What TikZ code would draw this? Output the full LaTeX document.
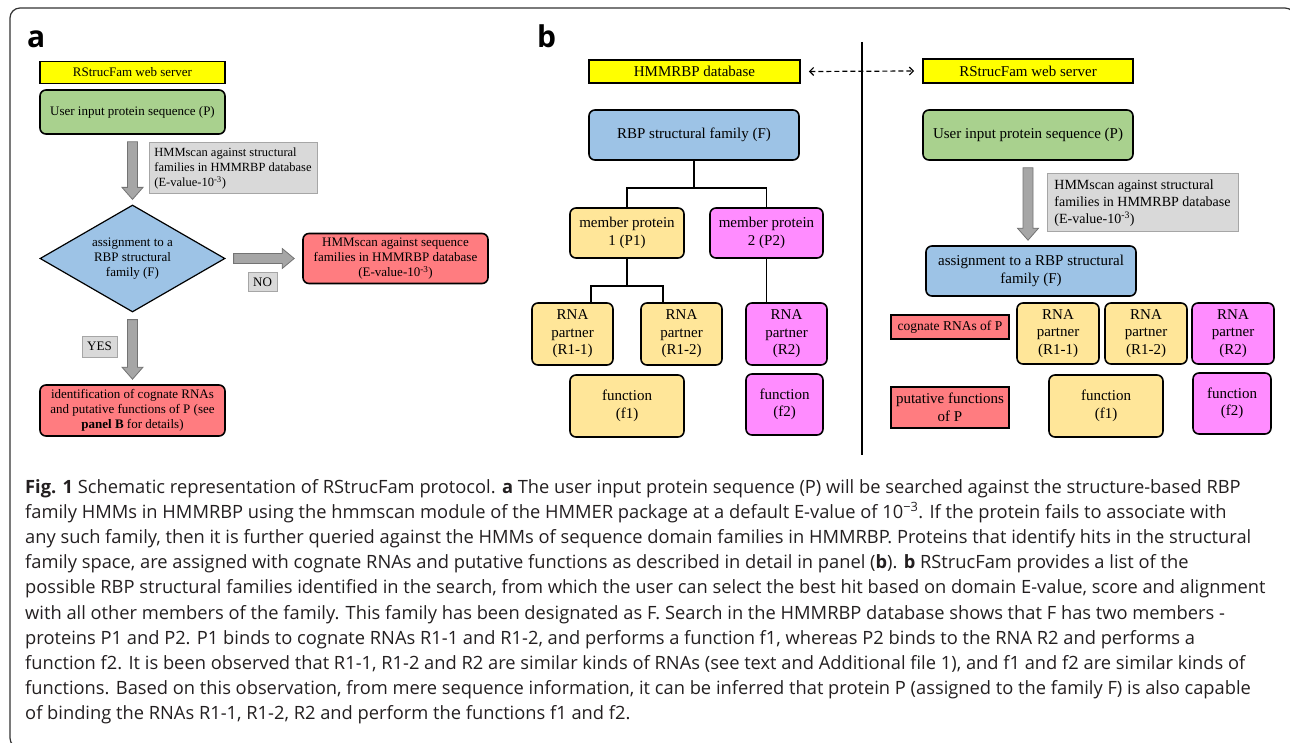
\documentclass[tikz,border=0pt]{standalone}
\usepackage{fontspec}
\setmainfont{Liberation Serif}
\newfontfamily\capfont{Open Sans}
\usepackage{xcolor}
\usepackage{tikz}
\usetikzlibrary{arrows.meta, shapes.geometric, calc}

\definecolor{boxyellow}{HTML}{FFFF00}
\definecolor{boxgreen}{HTML}{A9D18E}
\definecolor{boxblue}{HTML}{9DC3E6}
\definecolor{boxred}{HTML}{FF7C80}
\definecolor{boxpale}{HTML}{FFE699}
\definecolor{boxpink}{HTML}{FF8CFF}
\definecolor{notegrey}{HTML}{D9D9D9}
\definecolor{arrowgrey}{HTML}{A6A6A6}
\definecolor{captext}{HTML}{231F20}

% grey block arrows
\newcommand{\blockdown}[2]{\filldraw[blockarrow] ($(#1)+(-5,7)$) -- ($(#1 |- #2)+(-5,-17)$) -- ($(#1 |- #2)+(-10.5,-17)$) -- ($(#1 |- #2)+(0,-5)$) -- ($(#1 |- #2)+(10.5,-17)$) -- ($(#1 |- #2)+(5,-17)$) -- ($(#1)+(5,7)$) -- cycle;}
\newcommand{\blockright}[2]{\filldraw[blockarrow] ($(#1)+(8,-5)$) -- ($(#2 |- #1)+(-20,-5)$) -- ($(#2 |- #1)+(-20,-10)$) -- ($(#2 |- #1)+(-8,0)$) -- ($(#2 |- #1)+(-20,10)$) -- ($(#2 |- #1)+(-20,5)$) -- ($(#1)+(8,5)$) -- cycle;}

\begin{document}
\begin{tikzpicture}[x=1pt, y=-1pt, every node/.style={align=center, inner sep=0pt, font=\fontsize{13}{15}\selectfont},
    hdr/.style={draw, line width=1.6pt, fill=boxyellow, minimum height=22pt},
    rbox/.style={draw, line width=1.6pt, rounded corners=6pt},
    pale/.style={rbox, fill=boxpale},
    pink/.style={rbox, fill=boxpink},
    note/.style={draw=black!35, line width=1pt, fill=notegrey, align=left},
    tag/.style={draw=black!35, line width=1pt, fill=notegrey},
    sqbox/.style={draw, line width=1.6pt, fill=boxred},
    blockarrow/.style={fill=arrowgrey, draw=black!55, line width=0.8pt},
    link/.style={line width=1.6pt},
    bigfont/.style={font=\fontsize{15}{17.5}\selectfont},
    capline/.style={anchor=base west, font=\capfont\fontsize{18.3}{22}\selectfont, text=captext},
    panel/.style={anchor=base west, font=\capfont\bfseries\fontsize{30}{30}\selectfont}]
    \useasboundingbox (0,0) rectangle (1290,743);
    \draw[line width=1.2pt, black!80, rounded corners=10pt] (10,8) rectangle (1295,748);

    % Panel a
    \node[panel] (laba) at (27,48) {a};
    \node[hdr, minimum width=185pt] (srvA) at (132.5,72.5) {RStrucFam web server};
    \node[rbox, fill=boxgreen, minimum width=185pt, minimum height=44pt] (inpA) at (132.5,112) {User input protein sequence (P)};
    \node[note, font=\fontsize{12.5}{15}\selectfont, minimum width=168pt, minimum height=51pt] (scanA) at (233,168.5) {HMMscan against structural\\families in HMMRBP database\\(E-value-10\textsuperscript{-3})};
    \node[diamond, draw, line width=1.2pt, fill=boxblue, aspect=1.7, minimum width=185pt, minimum height=107pt] (famA) at (132.5,258.5) {assignment to a\\RBP structural\\family (F)};
    \node[rbox, fill=boxred, minimum width=185pt, minimum height=50pt] (seqA) at (395.5,258.5) {HMMscan against sequence\\families in HMMRBP database\\(E-value-10\textsuperscript{-3})};
    \node[tag, minimum width=29pt, minimum height=19pt] (noA) at (262.5,282.5) {NO};
    \node[tag, minimum width=35pt, minimum height=21pt] (yesA) at (99.5,346.5) {YES};
    \node[rbox, fill=boxred, minimum width=185pt, minimum height=51pt] (resA) at (132.5,410.5) {identification of cognate RNAs\\and putative functions of P (see\\\textbf{panel B} for details)};

    \blockdown{inpA.south}{famA.north}
    \blockright{famA.east}{seqA.west}
    \blockdown{famA.south}{resA.north}

    % Panel b, HMMRBP side
    \node[panel] (labb) at (537,48) {b};
    \node[hdr, bigfont, minimum width=211pt, minimum height=23pt] (dbB) at (694.5,71.5) {HMMRBP database};
    \node[rbox, bigfont, fill=boxblue, minimum width=210pt, minimum height=50pt] (famB) at (694,135) {RBP structural family (F)};
    \node[pale, bigfont, minimum width=114pt, minimum height=50pt] (p1B) at (627,233) {member protein\\1 (P1)};
    \node[pink, bigfont, minimum width=113pt, minimum height=50pt] (p2B) at (766.5,233) {member protein\\2 (P2)};
    \node[pale, bigfont, minimum width=81pt, minimum height=62pt] (r11B) at (572.5,334) {RNA\\partner\\(R1-1)};
    \node[pale, bigfont, minimum width=81pt, minimum height=62pt] (r12B) at (681.5,334) {RNA\\partner\\(R1-2)};
    \node[pink, bigfont, minimum width=81pt, minimum height=62pt] (r2B) at (786.5,334) {RNA\\partner\\(R2)};
    \node[pale, bigfont, minimum width=114pt, minimum height=62pt] (f1B) at (627,406) {function\\(f1)};
    \node[pink, bigfont, minimum width=77pt, minimum height=61pt] (f2B) at (784.5,404.5) {function\\(f2)};

    \draw[link] (famB.south) -- ++(0,27) -| (p1B.north);
    \draw[link] (famB.south) -- ++(0,27) -| (p2B.north);
    \draw[link] (p1B.south) -- ++(0,27) -| ([xshift=18.5pt]r11B.north);
    \draw[link] (p1B.south) -- ++(0,27) -| ([xshift=-18.5pt]r12B.north);
    \draw[link] (p2B.south) -- (p2B.south |- r2B.north);

    % divider
    \coordinate (divtop) at (862,42);
    \coordinate (divbot) at (862,455);
    \draw[line width=1.8pt] (divtop) -- (divbot);

    % Panel b, web server side
    \node[hdr, bigfont, minimum width=210pt, minimum height=24pt] (srvC) at (1028,71) {RStrucFam web server};
    \node[rbox, bigfont, fill=boxgreen, minimum width=210pt, minimum height=50pt] (inpC) at (1028,135) {User input protein sequence (P)};
    \node[note, font=\fontsize{14}{17}\selectfont, minimum width=191pt, minimum height=58pt] (scanC) at (1142.5,203) {HMMscan against structural\\families in HMMRBP database\\(E-value-10\textsuperscript{-3})};
    \node[rbox, bigfont, fill=boxblue, minimum width=210pt, minimum height=50pt] (asgC) at (1031,271) {assignment to a RBP structural\\family (F)};
    \node[sqbox, font=\fontsize{13.5}{16}\selectfont, minimum width=118pt, minimum height=24pt] (cogC) at (950,327) {cognate RNAs of P};
    \node[pale, bigfont, minimum width=82pt, minimum height=61pt] (r11C) at (1058,333.5) {RNA\\partner\\(R1-1)};
    \node[pale, bigfont, minimum width=82pt, minimum height=61pt] (r12C) at (1146,333.5) {RNA\\partner\\(R1-2)};
    \node[pink, bigfont, minimum width=82pt, minimum height=61pt] (r2C) at (1233,333.5) {RNA\\partner\\(R2)};
    \node[sqbox, bigfont, minimum width=118pt, minimum height=41pt] (putC) at (950,407.5) {putative functions\\of P};
    \node[pale, bigfont, minimum width=114pt, minimum height=62pt] (f1C) at (1106,406) {function\\(f1)};
    \node[pink, bigfont, minimum width=78pt, minimum height=61pt] (f2C) at (1232,403.5) {function\\(f2)};

    \draw[dashed, dash pattern=on 5pt off 3pt, line width=1.2pt, {Straight Barb[length=4pt]}-{Straight Barb[length=4pt]}] ([xshift=8pt]dbB.east) -- ([xshift=-8pt]srvC.west);
    \blockdown{inpC.south}{asgC.north}

    % caption
    \node[capline] (cap1) at (25,493) {\textbf{Fig. 1} Schematic representation of RStrucFam protocol. \textbf{a} The user input protein sequence (P) will be searched against the structure-based RBP};
    \node[capline] (cap2) at (25,518.2) {family HMMs in HMMRBP using the hmmscan module of the HMMER package at a default E-value of 10\textsuperscript{−3}. If the protein fails to associate with};
    \node[capline] (cap3) at (25,543.4) {any such family, then it is further queried against the HMMs of sequence domain families in HMMRBP. Proteins that identify hits in the structural};
    \node[capline] (cap4) at (25,568.6) {family space, are assigned with cognate RNAs and putative functions as described in detail in panel (\textbf{b}). \textbf{b} RStrucFam provides a list of the};
    \node[capline] (cap5) at (25,593.8) {possible RBP structural families identified in the search, from which the user can select the best hit based on domain E-value, score and alignment};
    \node[capline] (cap6) at (25,619) {with all other members of the family. This family has been designated as F. Search in the HMMRBP database shows that F has two members -};
    \node[capline] (cap7) at (25,644.2) {proteins P1 and P2. P1 binds to cognate RNAs R1-1 and R1-2, and performs a function f1, whereas P2 binds to the RNA R2 and performs a};
    \node[capline] (cap8) at (25,669.4) {function f2. It is been observed that R1-1, R1-2 and R2 are similar kinds of RNAs (see text and Additional file 1), and f1 and f2 are similar kinds of};
    \node[capline] (cap9) at (25,694.6) {functions. Based on this observation, from mere sequence information, it can be inferred that protein P (assigned to the family F) is also capable};
    \node[capline] (cap10) at (25,719.8) {of binding the RNAs R1-1, R1-2, R2 and perform the functions f1 and f2.};
\end{tikzpicture}
\end{document}
